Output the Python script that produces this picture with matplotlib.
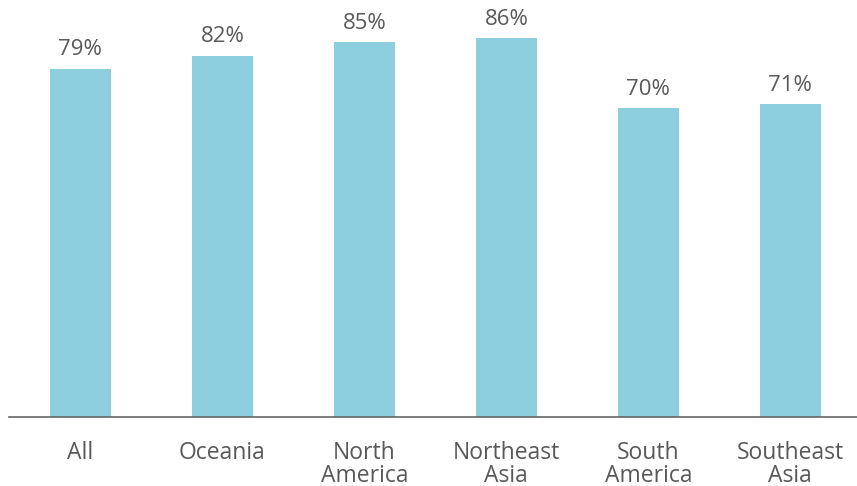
import matplotlib
matplotlib.use("Agg")
import matplotlib.pyplot as plt

regions = ["All", "Oceania", "North\nAmerica", "Northeast\nAsia", "South\nAmerica", "Southeast\nAsia"]
shares = [79, 82, 85, 86, 70, 71]

plt.rcParams["font.family"] = ["Open Sans", "DejaVu Sans"]
text_col = "#595959"

fig = plt.figure(figsize=(8.57, 4.86), dpi=100)
ax = fig.add_axes([9 / 857, 1 - 417 / 486, 1 - 9 / 857, 417 / 486])

x = range(len(regions))
ax.bar(x, shares, width=0.43, color="#8DCFDF")
for xi, v in zip(x, shares):
    ax.annotate(f"{v}%", (xi, v), xytext=(0, 6), textcoords="offset points",
                ha="center", va="bottom", fontsize=16, color=text_col)

ax.set_xlim(-0.503, 5.47)
ax.set_ylim(0, 94.6)
ax.set_xticks(list(x))
ax.set_xticklabels(regions, fontsize=16.5, color=text_col, linespacing=0.95)
ax.tick_params(axis="x", length=0, pad=17)
ax.set_yticks([])
for s in ["top", "right", "left"]:
    ax.spines[s].set_visible(False)
ax.spines["bottom"].set_color("#666666")
ax.spines["bottom"].set_linewidth(1.2)

fig.savefig("out.png", dpi=100)
